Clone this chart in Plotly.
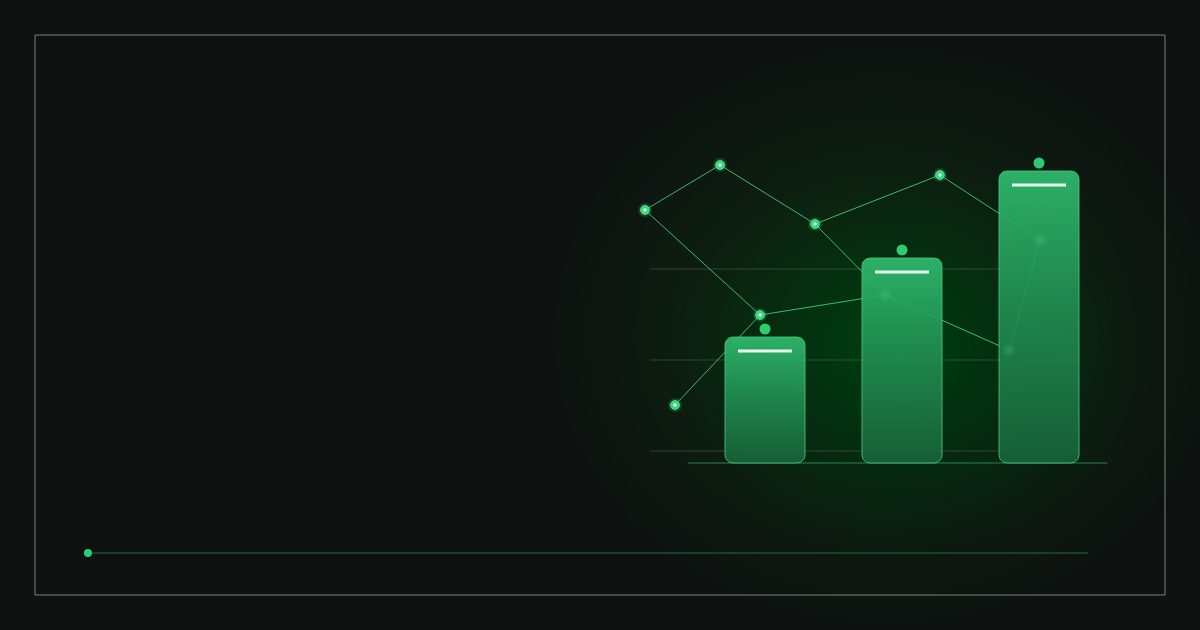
import numpy as np
import plotly.graph_objects as go

# ---------------- data ----------------
bar_x = [1, 2, 3]                 # category positions of the three bars
bar_values = [126, 205, 292]      # bar heights above the baseline
grid_values = [12, 103, 194]      # horizontal guide lines
grid_span = [0.16, 3.30]
base_span = [0.44, 3.50]

# network of points (x in category units, y in value units)
net_x = [0.343, 0.964, 0.124, 0.672, 1.365, 2.277, 3.007, 2.781, 1.876, 0.964]
net_y = [58, 148, 253, 298, 239, 288, 223, 113, 168, 148]
net2_x = [1.365, 1.876]
net2_y = [239, 168]

# progress line at the bottom
progress_x = [-3.942, 3.358]
progress_y = [-90, -90]

# ---------------- style constants ----------------
PX_X = 137.0            # pixels per x unit
X_RANGE = [-628 / PX_X, (1200 - 628) / PX_X]
Y_RANGE = [-167, 463]
BAR_HALF = 40 / PX_X
RAD_X, RAD_Y = 8 / PX_X, 8
BG = "#0d1110"
GREEN = "rgb(46,204,113)"

fig = go.Figure()


def glow(cx_px, cy_px, rx_px, ry_px, n, color, op, power):
    cx, cy = cx_px / 1200, 1 - cy_px / 630
    for k in range(n, 0, -1):
        f = (k / n) ** power
        rx, ry = rx_px / 1200 * f, ry_px / 630 * f
        fig.add_shape(type="circle", xref="paper", yref="paper",
                      x0=cx - rx, x1=cx + rx, y0=cy - ry, y1=cy + ry,
                      fillcolor=color, opacity=op, line_width=0, layer="below")


# glow behind the chart (decorative)
glow(885, 335, 345, 300, 30, "rgb(45,150,90)", 0.012, 1.05)
glow(905, 360, 230, 190, 16, "rgb(40,160,90)", 0.01, 1.0)

# frame
fig.add_shape(type="rect", xref="paper", yref="paper",
              x0=35 / 1200, x1=1165 / 1200, y0=1 - 595 / 630, y1=1 - 35 / 630,
              line=dict(color="rgba(200,205,202,0.6)", width=1), fillcolor="rgba(0,0,0,0)")

# grid lines
gx, gy = [], []
for v in grid_values:
    gx += [grid_span[0], grid_span[1], None]
    gy += [v, v, None]
fig.add_trace(go.Scatter(x=gx, y=gy, mode="lines",
                         line=dict(color="rgba(200,215,205,0.2)", width=1)))
# baseline
fig.add_trace(go.Scatter(x=base_span, y=[0, 0], mode="lines",
                         line=dict(color="rgba(50,170,95,0.75)", width=1)))

# network lines
fig.add_trace(go.Scatter(x=net_x + [None] + net2_x, y=net_y + [None] + net2_y, mode="lines",
                         line=dict(color="rgba(85,228,150,0.75)", width=1)))
pts_x = net_x[:-1]
pts_y = net_y[:-1]
fig.add_trace(go.Scatter(x=pts_x, y=pts_y, mode="markers",
                         marker=dict(size=14, color="rgba(46,204,113,0.22)", line_width=0)))
fig.add_trace(go.Scatter(x=pts_x, y=pts_y, mode="markers",
                         marker=dict(size=9, color="rgb(50,215,120)",
                                     line=dict(color="rgba(120,240,170,0.6)", width=1))))
fig.add_trace(go.Scatter(x=pts_x, y=pts_y, mode="markers",
                         marker=dict(size=3.5, color="rgb(225,255,235)", line_width=0)))


# bars as rounded rectangles with vertical gradient
def rounded_rect(xc, h):
    x0, x1, y0, y1 = xc - BAR_HALF, xc + BAR_HALF, 0, h
    pts = []
    corners = [(x1 - RAD_X, y1 - RAD_Y, 0, 90), (x0 + RAD_X, y1 - RAD_Y, 90, 180),
               (x0 + RAD_X, y0 + RAD_Y, 180, 270), (x1 - RAD_X, y0 + RAD_Y, 270, 360)]
    for ccx, ccy, a0, a1 in corners:
        for a in np.linspace(np.radians(a0), np.radians(a1), 9):
            pts.append((ccx + RAD_X * np.cos(a), ccy + RAD_Y * np.sin(a)))
    pts.append(pts[0])
    return [p[0] for p in pts], [p[1] for p in pts]


for xc, h in zip(bar_x, bar_values):
    px, py = rounded_rect(xc, h)
    fig.add_trace(go.Scatter(
        x=px, y=py, mode="lines", fill="toself",
        fillgradient=dict(type="vertical",
                          colorscale=[[0, "rgba(24,102,60,0.88)"],
                                      [0.55, "rgba(34,145,84,0.9)"],
                                      [1, "rgba(46,185,108,0.94)"]]),
        line=dict(color="rgba(75,205,125,0.8)", width=1)))

# white dashes on top of bars
dx, dy = [], []
for xc, h in zip(bar_x, bar_values):
    dx += [xc - 27 / PX_X, xc + 27 / PX_X, None]
    dy += [h - 14, h - 14, None]
fig.add_trace(go.Scatter(x=dx, y=dy, mode="lines",
                         line=dict(color="rgba(240,255,245,0.95)", width=3)))

# dots above bars
fig.add_trace(go.Scatter(x=bar_x, y=[v + 8 for v in bar_values], mode="markers",
                         marker=dict(size=11, color=GREEN, line_width=0)))

# bottom progress line
fig.add_trace(go.Scatter(x=progress_x, y=progress_y, mode="lines",
                         line=dict(color="rgba(40,150,85,0.7)", width=1)))
fig.add_trace(go.Scatter(x=progress_x[:1], y=progress_y[:1], mode="markers",
                         marker=dict(size=8, color=GREEN, line_width=0)))

fig.update_traces(hoverinfo="skip", showlegend=False)
fig.update_layout(
    width=1200, height=630, margin=dict(l=0, r=0, t=0, b=0),
    paper_bgcolor=BG, plot_bgcolor="rgba(0,0,0,0)",
    xaxis=dict(range=X_RANGE, visible=False, fixedrange=True),
    yaxis=dict(range=Y_RANGE, visible=False, fixedrange=True),
    showlegend=False,
)
fig.write_html("out.html", config={"displayModeBar": False},
               post_script="document.body.style.margin='0';document.body.style.background='#0d1110';")
